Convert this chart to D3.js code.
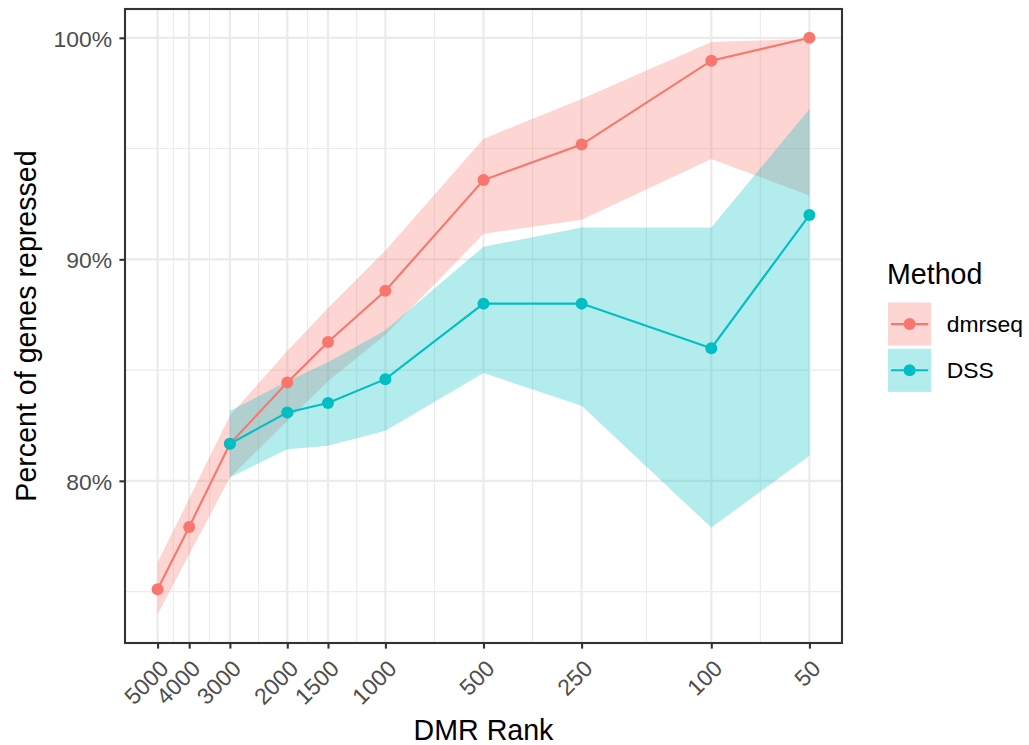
<!DOCTYPE html>
<html>
<head>
<meta charset="utf-8">
<script src="https://cdn.jsdelivr.net/npm/d3@7"></script>
<style>
  body { margin: 0; background: #ffffff; }
  text { font-family: "Liberation Sans", Arial, Helvetica, sans-serif; }
</style>
</head>
<body>
<svg id="chart" width="1029" height="745"></svg>
<script>
// DMR rank cut-offs (x) and percentage of repressed genes per method
const ranks = [5000, 4000, 3000, 2000, 1500, 1000, 500, 250, 100, 50];
const dmrseqPct  = [75.11, 77.92, 81.67, 84.44, 86.27, 88.58, 93.58, 95.18, 98.97, 100.0];
const dmrseqLow  = [73.98, 76.68, 80.15, 82.70, 84.50, 86.60, 91.15, 91.79, 94.53, 92.88];
const dmrseqHigh = [76.31, 79.20, 82.95, 85.86, 87.80, 90.40, 95.44, 97.24, 99.81, 99.95];

const dssRanks = [3000, 2000, 1500, 1000, 500, 250, 100, 50];
const dssPct  = [81.67, 83.09, 83.51, 84.59, 88.00, 88.00, 85.99, 92.00];
const dssLow  = [80.15, 81.43, 81.58, 82.26, 84.87, 83.39, 77.89, 81.13];
const dssHigh = [83.15, 84.50, 85.35, 86.80, 90.57, 91.44, 91.44, 96.79];

const xBreaks = ranks;
const yBreaks = [80, 90, 100];
const yMinorBreaks = [75, 85, 95];
const methods = ["dmrseq", "DSS"];
const methodColors = ["#F8766D", "#00BFC4"];

const series = [
  { name: methods[0], color: methodColors[0],
    rows: ranks.map((r, i) => ({ rank: r, pct: dmrseqPct[i], lo: dmrseqLow[i], hi: dmrseqHigh[i] })) },
  { name: methods[1], color: methodColors[1],
    rows: dssRanks.map((r, i) => ({ rank: r, pct: dssPct[i], lo: dssLow[i], hi: dssHigh[i] })) }
];

// panel geometry
const panel = { left: 125, right: 842, top: 9, bottom: 643 };
const svg = d3.select("#chart");

// x: reversed log scale with 5% expansion on each side
const xPad = (panel.right - panel.left) / 1.1 * 0.05;
const x = d3.scaleLog()
  .domain([d3.max(ranks), d3.min(ranks)])
  .range([panel.left + xPad, panel.right - xPad]);

// y: continuous with 5% expansion of the data extent (ribbons included)
const allVals = [...dmrseqLow, ...dmrseqHigh, ...dssLow, ...dssHigh, ...dmrseqPct, ...dssPct];
const yMin = d3.min(allVals), yMax = d3.max(allVals);
const yExp = (yMax - yMin) * 0.05;
const y = d3.scaleLinear()
  .domain([yMin - yExp, yMax + yExp])
  .range([panel.bottom, panel.top]);

// minor x breaks sit halfway between majors on the log scale
const xMinorBreaks = d3.pairs(xBreaks).map(([a, b]) => Math.sqrt(a * b));

const grid = svg.append("g");
const gridColor = "#EBEBEB";
grid.selectAll(".ymin").data(yMinorBreaks).join("line")
  .attr("x1", panel.left).attr("x2", panel.right)
  .attr("y1", d => y(d)).attr("y2", d => y(d))
  .attr("stroke", gridColor).attr("stroke-width", 1.1);
grid.selectAll(".xmin").data(xMinorBreaks).join("line")
  .attr("x1", d => x(d)).attr("x2", d => x(d))
  .attr("y1", panel.top).attr("y2", panel.bottom)
  .attr("stroke", gridColor).attr("stroke-width", 1.1);
grid.selectAll(".ymaj").data(yBreaks).join("line")
  .attr("x1", panel.left).attr("x2", panel.right)
  .attr("y1", d => y(d)).attr("y2", d => y(d))
  .attr("stroke", gridColor).attr("stroke-width", 2.2);
grid.selectAll(".xmaj").data(xBreaks).join("line")
  .attr("x1", d => x(d)).attr("x2", d => x(d))
  .attr("y1", panel.top).attr("y2", panel.bottom)
  .attr("stroke", gridColor).attr("stroke-width", 2.2);

// confidence ribbons
const area = d3.area()
  .x(d => x(d.rank))
  .y0(d => y(d.lo))
  .y1(d => y(d.hi));
svg.append("g").selectAll("path").data(series).join("path")
  .attr("d", s => area(s.rows))
  .attr("fill", s => s.color)
  .attr("fill-opacity", 0.3);

// lines
const line = d3.line().x(d => x(d.rank)).y(d => y(d.pct));
svg.append("g").selectAll("path").data(series).join("path")
  .attr("d", s => line(s.rows))
  .attr("fill", "none")
  .attr("stroke", s => s.color)
  .attr("stroke-width", 2.1);

// points
svg.append("g").selectAll("g").data(series).join("g")
  .attr("fill", s => s.color)
  .selectAll("circle").data(s => s.rows).join("circle")
  .attr("cx", d => x(d.rank))
  .attr("cy", d => y(d.pct))
  .attr("r", 6);

// panel border
svg.append("rect")
  .attr("x", panel.left).attr("y", panel.top)
  .attr("width", panel.right - panel.left)
  .attr("height", panel.bottom - panel.top)
  .attr("fill", "none").attr("stroke", "#333333").attr("stroke-width", 2.1);

// axes
const tickLen = 5.6;
const xAxis = d3.axisBottom(x).tickValues(xBreaks).tickFormat(d3.format("d")).tickSize(tickLen).tickSizeOuter(0);
const gx = svg.append("g").attr("transform", `translate(0,${panel.bottom})`).call(xAxis);
gx.select(".domain").remove();
gx.selectAll(".tick line").attr("stroke", "#333333").attr("stroke-width", 2.1);
gx.selectAll(".tick text")
  .attr("fill", "#4D4D4D")
  .attr("font-size", "22.9px")
  .attr("text-anchor", "end")
  .attr("y", 0).attr("dy", null)
  .attr("transform", "translate(12,27) rotate(-45)");

const yAxis = d3.axisLeft(y).tickValues(yBreaks).tickFormat(d => d + "%").tickSize(tickLen).tickSizeOuter(0);
const gy = svg.append("g").attr("transform", `translate(${panel.left},0)`).call(yAxis);
gy.select(".domain").remove();
gy.selectAll(".tick line").attr("stroke", "#333333").attr("stroke-width", 2.1);
gy.selectAll(".tick text")
  .attr("fill", "#4D4D4D")
  .attr("font-size", "22.9px")
  .attr("x", -13)
  .attr("dy", "0.358em");

// axis titles
svg.append("text")
  .attr("x", (panel.left + panel.right) / 2).attr("y", 740)
  .attr("text-anchor", "middle")
  .attr("font-size", "28.6px").attr("fill", "#000")
  .text("DMR Rank");
svg.append("text")
  .attr("transform", `translate(36,${(panel.top + panel.bottom) / 2}) rotate(-90)`)
  .attr("text-anchor", "middle")
  .attr("font-size", "28.6px").attr("fill", "#000")
  .text("Percent of genes repressed");

// legend
const legend = svg.append("g").attr("transform", "translate(887,0)");
legend.append("text")
  .attr("x", 0).attr("y", 284)
  .attr("font-size", "28.6px").attr("fill", "#000")
  .text("Method");
const keySize = 43.2, keyTop = 302.5, keyStep = 46.2;
const keys = legend.selectAll(".key").data(series).join("g")
  .attr("transform", (s, i) => `translate(1,${keyTop + i * keyStep})`);
keys.append("rect")
  .attr("width", keySize).attr("height", keySize)
  .attr("fill", s => s.color).attr("fill-opacity", 0.3);
keys.append("line")
  .attr("x1", 3).attr("x2", keySize - 3)
  .attr("y1", keySize / 2).attr("y2", keySize / 2)
  .attr("stroke", s => s.color).attr("stroke-width", 2.1);
keys.append("circle")
  .attr("cx", keySize / 2).attr("cy", keySize / 2).attr("r", 6)
  .attr("fill", s => s.color);
keys.append("text")
  .attr("x", 58.7).attr("y", keySize / 2).attr("dy", "0.358em")
  .attr("font-size", "22.9px").attr("fill", "#000")
  .text(s => s.name);
</script>
</body>
</html>
